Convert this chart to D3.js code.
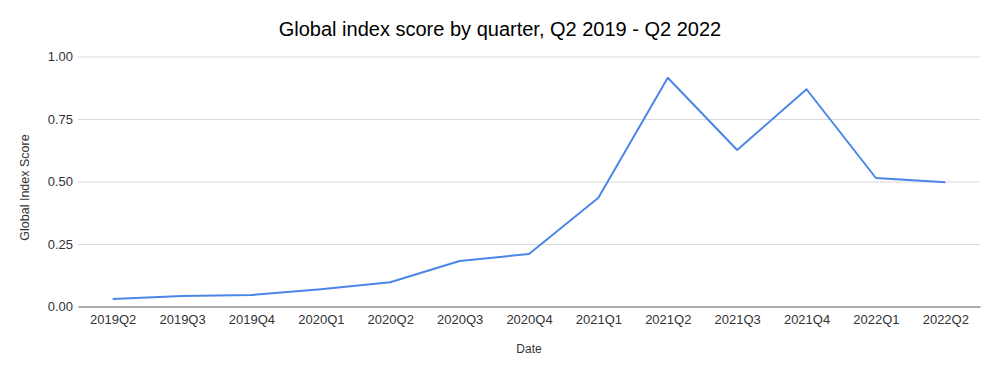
<!DOCTYPE html>
<html>
<head>
<meta charset="utf-8">
<script src="https://cdn.jsdelivr.net/npm/d3@7"></script>
<style>
  body { margin: 0; background: #fff; }
  text { font-family: "Liberation Sans", Arial, sans-serif; }
</style>
</head>
<body>
<div id="chart"></div>
<script>
// quarters and their scores
const quarters = ["2019Q2","2019Q3","2019Q4","2020Q1","2020Q2","2020Q3","2020Q4",
                  "2021Q1","2021Q2","2021Q3","2021Q4","2022Q1","2022Q2"];
const scores = [0.030, 0.042, 0.046, 0.069, 0.097, 0.182, 0.210,
                0.435, 0.915, 0.626, 0.869, 0.514, 0.497];
const yTicks = [0, 0.25, 0.5, 0.75, 1];

const width = 1000, height = 374;
const margin = { top: 56.5, right: 20, bottom: 67.5, left: 78 };

const svg = d3.select("#chart").append("svg")
  .attr("width", width)
  .attr("height", height);

const x = d3.scalePoint()
  .domain(quarters)
  .range([margin.left, width - margin.right])
  .padding(0.5);

const y = d3.scaleLinear()
  .domain([0, 1])
  .range([height - margin.bottom, margin.top]);

// title
svg.append("text")
  .attr("x", width / 2)
  .attr("y", 36)
  .attr("text-anchor", "middle")
  .style("font-size", "20px")
  .style("fill", "#000")
  .text("Global index score by quarter, Q2 2019 - Q2 2022");

// gridlines + y labels
const yAxis = svg.append("g")
  .attr("transform", `translate(${margin.left},0)`)
  .call(d3.axisLeft(y).tickValues(yTicks).tickFormat(d3.format(".2f"))
    .tickSize(-(width - margin.left - margin.right)).tickPadding(5));
yAxis.select(".domain").remove();
yAxis.selectAll(".tick line")
  .attr("stroke", "#d9d9d9")
  .attr("stroke-width", 1);
yAxis.selectAll(".tick text")
  .style("font-size", "13px")
  .style("fill", "#333");

// x axis (baseline)
const xAxis = svg.append("g")
  .attr("transform", `translate(0,${y(0)})`)
  .call(d3.axisBottom(x).tickSize(0).tickPadding(8));
xAxis.select(".domain")
  .attr("stroke", "#999")
  .attr("stroke-width", 1.5);
xAxis.selectAll(".tick text")
  .style("font-size", "13px")
  .style("fill", "#333");

// the series line
const line = d3.line()
  .x((d, i) => x(quarters[i]))
  .y(d => y(d));

svg.append("path")
  .datum(scores)
  .attr("fill", "none")
  .attr("stroke", "#4a86e8")
  .attr("stroke-width", 2)
  .attr("stroke-linejoin", "round")
  .attr("d", line);

// axis titles
svg.append("text")
  .attr("x", (margin.left + width - margin.right) / 2)
  .attr("y", 353)
  .attr("text-anchor", "middle")
  .style("font-size", "12px")
  .style("fill", "#333")
  .text("Date");

svg.append("text")
  .attr("transform", `translate(29,${(margin.top + height - margin.bottom) / 2 + 6}) rotate(-90)`)
  .attr("text-anchor", "middle")
  .style("font-size", "12.5px")
  .style("fill", "#333")
  .text("Global Index Score");
</script>
</body>
</html>
